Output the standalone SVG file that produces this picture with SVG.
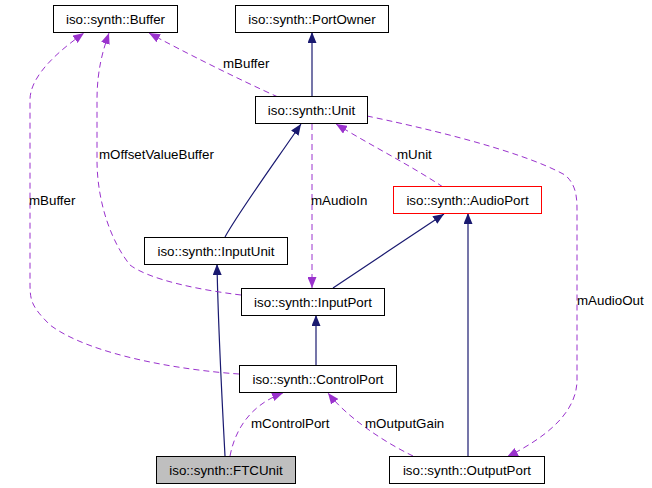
<svg xmlns="http://www.w3.org/2000/svg" width="652" height="488" viewBox="0 0 652 488">
<style>
.box{fill:#ffffff;stroke:#000000;stroke-width:1}
.t{font-family:"Liberation Sans",Arial,sans-serif;font-size:13.33px;fill:#000000}
.c{text-anchor:middle}
.inh{fill:none;stroke:#191970;stroke-width:1.2}
.use{fill:none;stroke:#9a32cd;stroke-width:1;stroke-dasharray:6,4}
</style>
<defs>
<marker id="ah" markerUnits="userSpaceOnUse" markerWidth="11" markerHeight="9" refX="11" refY="4.5" orient="auto"><path d="M0,0 L11,4.5 L0,9 z" fill="#191970"/></marker>
<marker id="ap" markerUnits="userSpaceOnUse" markerWidth="11" markerHeight="9" refX="11" refY="4.5" orient="auto"><path d="M0,0 L11,4.5 L0,9 z" fill="#9a32cd"/></marker>
</defs>
<rect width="652" height="488" fill="#ffffff"/>
<g id="connectors">
<path class="inh" d="M312,97 L312,32" marker-end="url(#ah)"/>
<path class="inh" d="M225,237 C240,210 280,155 301,124" marker-end="url(#ah)"/>
<path class="inh" d="M333,288 C360,270 420,230 444,214" marker-end="url(#ah)"/>
<path class="inh" d="M468,456 L468,213" marker-end="url(#ah)"/>
<path class="inh" d="M316,365 L316,315" marker-end="url(#ah)"/>
<path class="inh" d="M225,456 C222,400 218,320 217,264" marker-end="url(#ah)"/>
<path class="use" d="M278,97 C240,80 180,50 149,33" marker-end="url(#ap)"/>
<path class="use" d="M241,295 C200,290 150,280 130,265 C110,240 97,200 97,160 L97,100 C97,70 103,50 109,33" marker-end="url(#ap)"/>
<path class="use" d="M239,374 C180,370 90,355 50,325 C30,305 30,300 30,280 L30,100 C30,75 60,50 84,33" marker-end="url(#ap)"/>
<path class="use" d="M312,124 L312,288" marker-end="url(#ap)"/>
<path class="use" d="M443,187 C410,165 370,145 336,124" marker-end="url(#ap)"/>
<path class="use" d="M367,116 C420,127 520,150 565,175 C577,185 577,200 577,210 L577,380 C577,420 530,445 507,457" marker-end="url(#ap)"/>
<path class="use" d="M230,456 C235,430 250,405 283,393" marker-end="url(#ap)"/>
<path class="use" d="M413,456 C380,440 345,415 328,393" marker-end="url(#ap)"/>
<text class="t" x="223" y="68">mBuffer</text>
<text class="t" x="99" y="159">mOffsetValueBuffer</text>
<text class="t" x="29" y="205">mBuffer</text>
<text class="t" x="311" y="205">mAudioIn</text>
<text class="t" x="397" y="159">mUnit</text>
<text class="t" x="577" y="305">mAudioOut</text>
<text class="t" x="251" y="428">mControlPort</text>
<text class="t" x="365" y="428">mOutputGain</text>
</g>
<g id="Buffer"><rect class="box" x="53.5" y="5.5" width="124" height="27"/><text class="t c" x="115.5" y="23.5">iso::synth::Buffer</text></g>
<g id="PortOwner"><rect class="box" x="235.5" y="5.5" width="153" height="27"/><text class="t c" x="312" y="23.5">iso::synth::PortOwner</text></g>
<g id="Unit"><rect class="box" x="255.5" y="96.5" width="112" height="27"/><text class="t c" x="311.5" y="114.5">iso::synth::Unit</text></g>
<g id="AudioPort"><rect x="393.5" y="186.5" width="148" height="27" fill="#ffffff" stroke="#ff0000"/><text class="t c" x="467.5" y="204.5">iso::synth::AudioPort</text></g>
<g id="InputUnit"><rect class="box" x="144.5" y="237.5" width="143" height="27"/><text class="t c" x="216" y="255.5">iso::synth::InputUnit</text></g>
<g id="InputPort"><rect class="box" x="241.5" y="288.5" width="143" height="27"/><text class="t c" x="313" y="306.5">iso::synth::InputPort</text></g>
<g id="ControlPort"><rect class="box" x="239.5" y="365.5" width="157" height="27"/><text class="t c" x="318" y="383.5">iso::synth::ControlPort</text></g>
<g id="FTCUnit"><rect x="156.5" y="456.5" width="139" height="27" fill="#bfbfbf" stroke="#000000"/><text class="t c" x="226" y="474.5">iso::synth::FTCUnit</text></g>
<g id="OutputPort"><rect class="box" x="389.5" y="456.5" width="155" height="27"/><text class="t c" x="467" y="474.5">iso::synth::OutputPort</text></g>
</svg>
